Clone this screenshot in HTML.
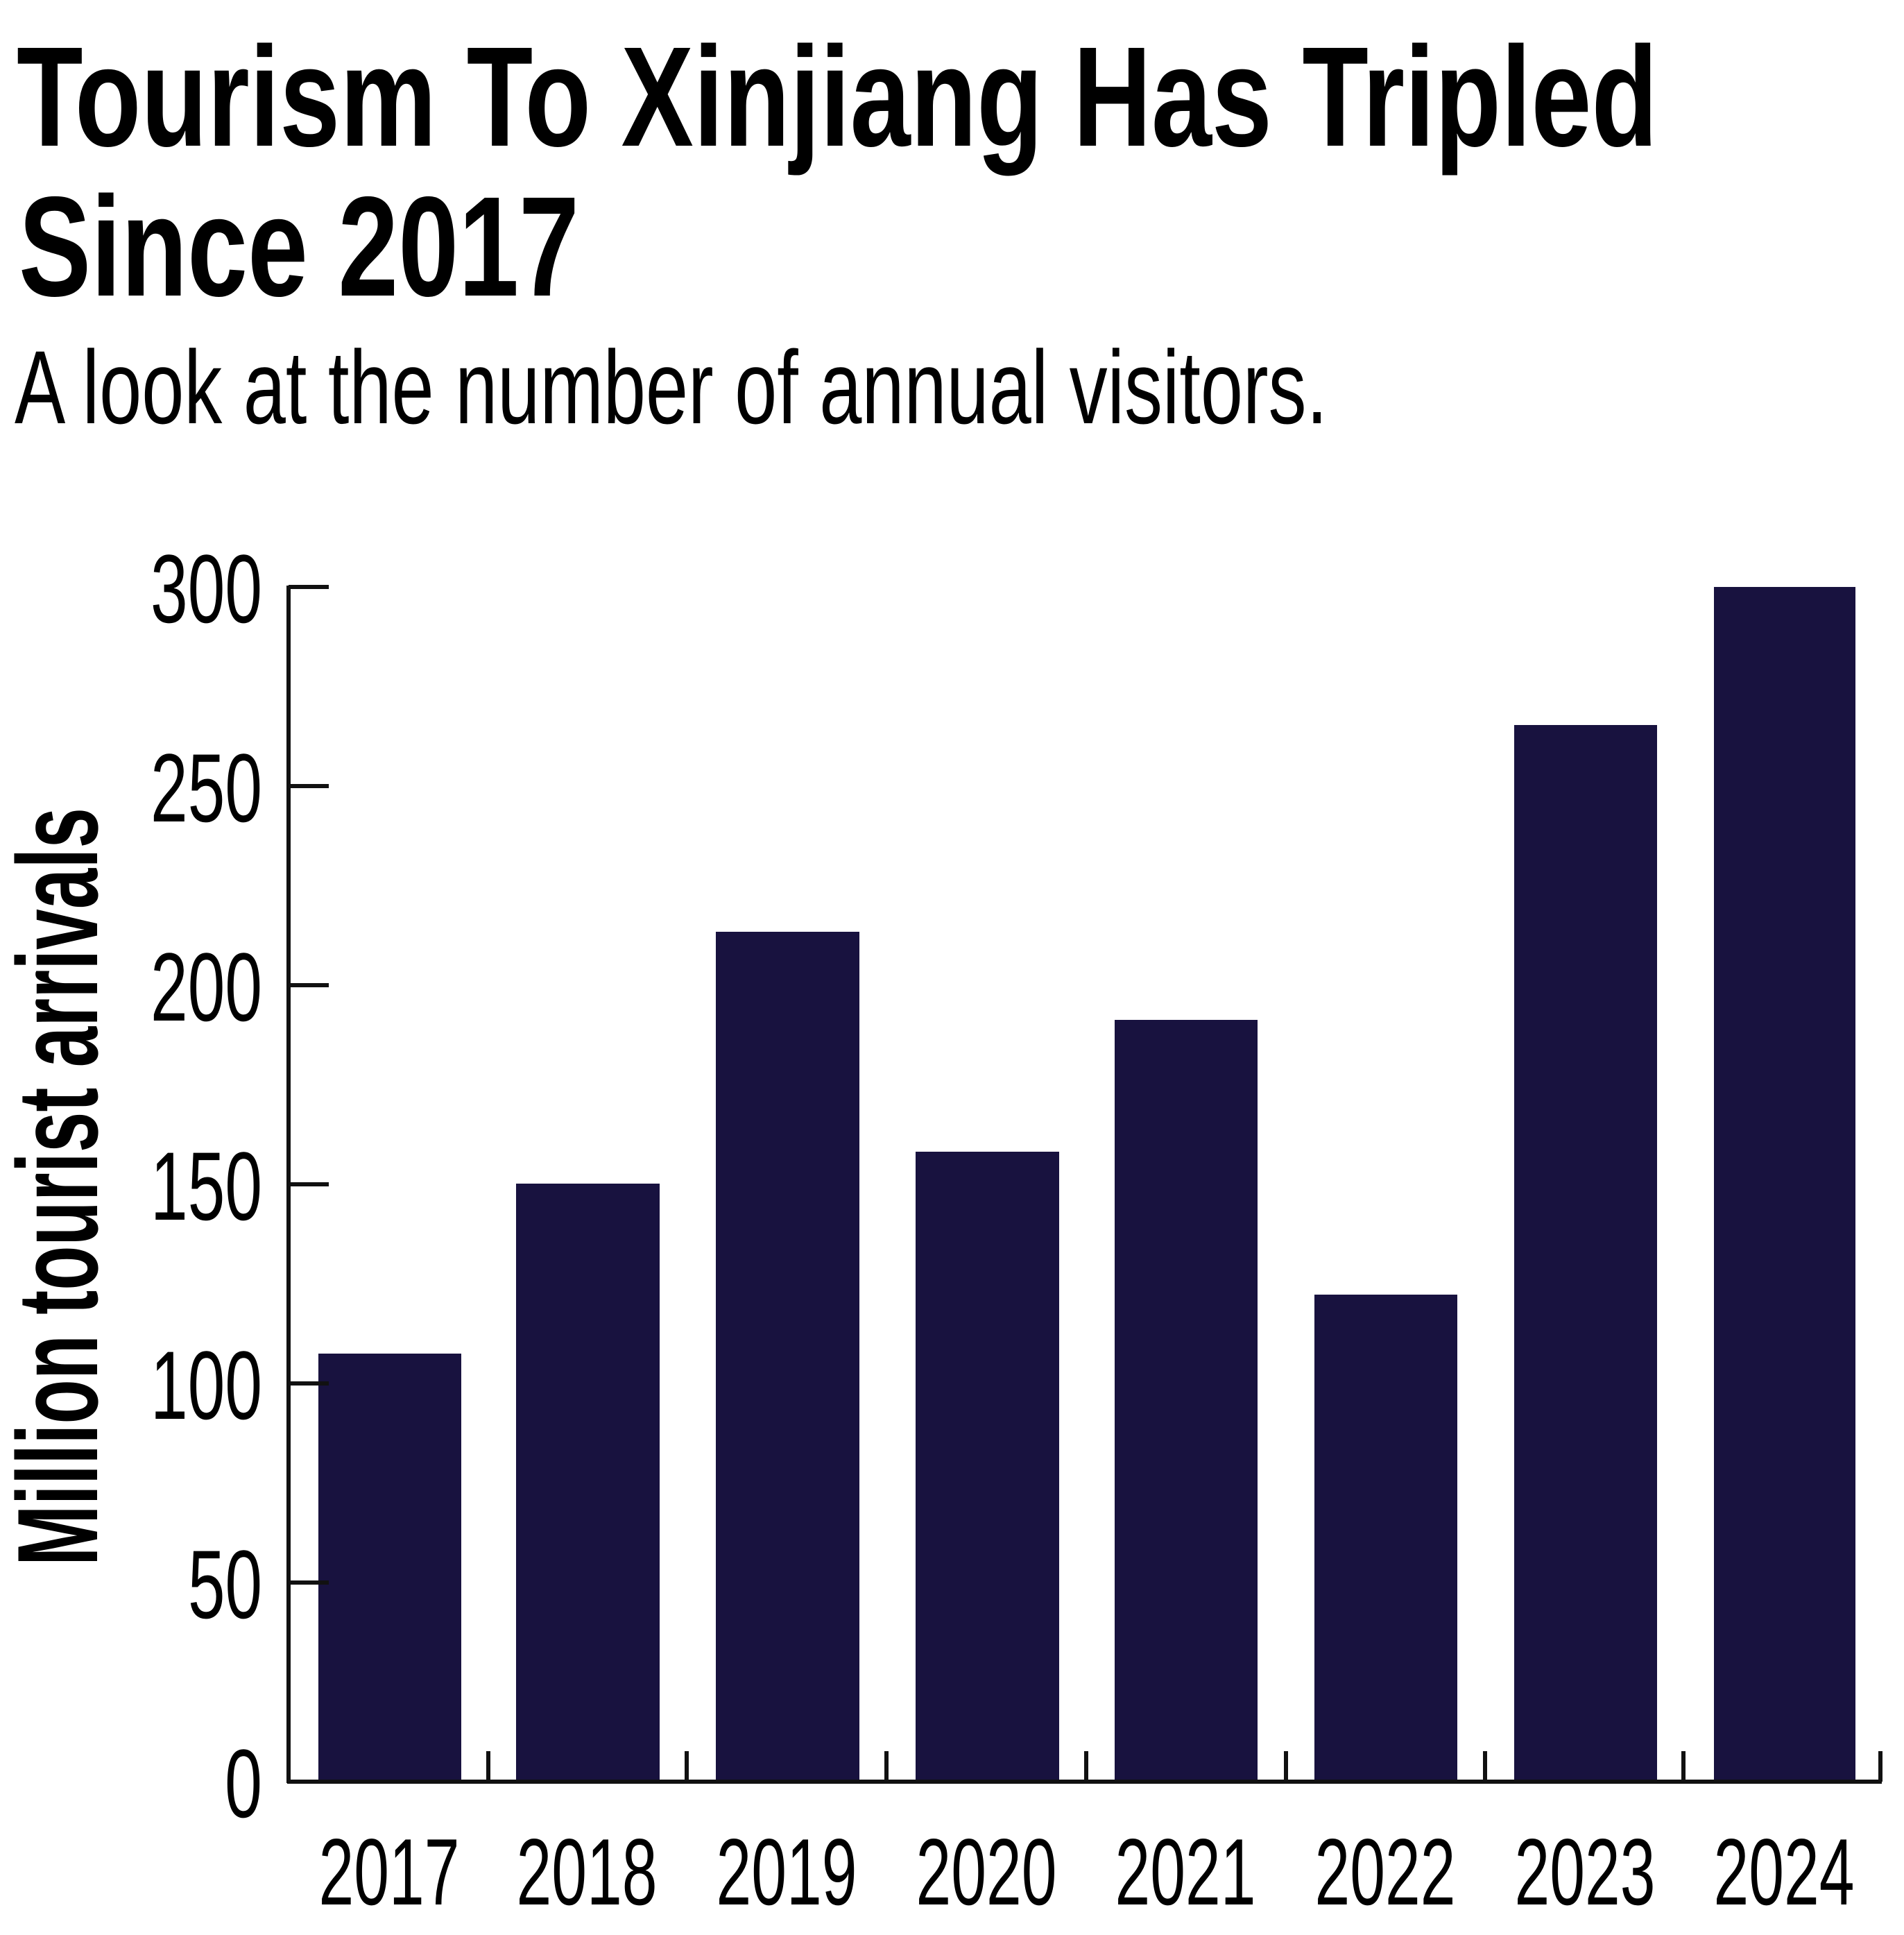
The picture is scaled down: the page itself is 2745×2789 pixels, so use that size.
<!DOCTYPE html>
<html><head><meta charset="utf-8"><style>
html,body{margin:0;padding:0;background:#fff;}
svg{display:block;}
text{font-family:"Liberation Sans Narrow","Liberation Sans",sans-serif;fill:#000;}
</style></head><body>
<svg width="2745" height="2789" viewBox="0 0 2745 2789" xmlns="http://www.w3.org/2000/svg">
<text x="24" y="210" font-size="205" font-weight="bold" textLength="2366" lengthAdjust="spacingAndGlyphs">Tourism To Xinjiang Has Tripled</text>
<text x="27" y="426" font-size="205" font-weight="bold" textLength="808" lengthAdjust="spacingAndGlyphs">Since 2017</text>
<text x="21" y="610" font-size="150" textLength="1893" lengthAdjust="spacingAndGlyphs">A look at the number of annual visitors.</text>
<text transform="translate(140,2257) rotate(-90)" font-size="165" font-weight="bold" textLength="1093" lengthAdjust="spacingAndGlyphs">Million tourist arrivals</text>
<g fill="#18123f">
<rect x="459" y="1951" width="206" height="617"/>
<rect x="744" y="1706" width="207" height="862"/>
<rect x="1032" y="1343" width="207" height="1225"/>
<rect x="1320" y="1660" width="207" height="908"/>
<rect x="1607" y="1470" width="206" height="1098"/>
<rect x="1895" y="1866" width="206" height="702"/>
<rect x="2183" y="1045" width="206" height="1523"/>
<rect x="2471" y="846" width="204" height="1722"/>
</g>
<g stroke="#111" stroke-width="6" fill="none">
<line x1="416" y1="844" x2="416" y2="2570"/>
<line x1="414" y1="2568" x2="2713" y2="2568"/>
<line x1="416" y1="846" x2="474" y2="846"/>
<line x1="416" y1="1133" x2="474" y2="1133"/>
<line x1="416" y1="1420" x2="474" y2="1420"/>
<line x1="416" y1="1707" x2="474" y2="1707"/>
<line x1="416" y1="1994" x2="474" y2="1994"/>
<line x1="416" y1="2281" x2="474" y2="2281"/>
<line x1="704" y1="2524" x2="704" y2="2568"/>
<line x1="990" y1="2524" x2="990" y2="2568"/>
<line x1="1278" y1="2524" x2="1278" y2="2568"/>
<line x1="1566" y1="2524" x2="1566" y2="2568"/>
<line x1="1854" y1="2524" x2="1854" y2="2568"/>
<line x1="2141" y1="2524" x2="2141" y2="2568"/>
<line x1="2427" y1="2524" x2="2427" y2="2568"/>
<line x1="2711" y1="2524" x2="2711" y2="2568"/>
</g>
<g font-size="140" text-anchor="end">
<text x="378" y="897" textLength="161" lengthAdjust="spacingAndGlyphs">300</text>
<text x="378" y="1184" textLength="161" lengthAdjust="spacingAndGlyphs">250</text>
<text x="378" y="1471" textLength="161" lengthAdjust="spacingAndGlyphs">200</text>
<text x="378" y="1758" textLength="161" lengthAdjust="spacingAndGlyphs">150</text>
<text x="378" y="2045" textLength="161" lengthAdjust="spacingAndGlyphs">100</text>
<text x="378" y="2332" textLength="107" lengthAdjust="spacingAndGlyphs">50</text>
<text x="378" y="2619" textLength="54" lengthAdjust="spacingAndGlyphs">0</text>
</g>
<g font-size="136" text-anchor="middle">
<text x="561" y="2745" textLength="203" lengthAdjust="spacingAndGlyphs">2017</text>
<text x="846" y="2745" textLength="203" lengthAdjust="spacingAndGlyphs">2018</text>
<text x="1134" y="2745" textLength="203" lengthAdjust="spacingAndGlyphs">2019</text>
<text x="1422" y="2745" textLength="203" lengthAdjust="spacingAndGlyphs">2020</text>
<text x="1709" y="2745" textLength="203" lengthAdjust="spacingAndGlyphs">2021</text>
<text x="1997" y="2745" textLength="203" lengthAdjust="spacingAndGlyphs">2022</text>
<text x="2285" y="2745" textLength="203" lengthAdjust="spacingAndGlyphs">2023</text>
<text x="2572" y="2745" textLength="203" lengthAdjust="spacingAndGlyphs">2024</text>
</g>
</svg>
</body></html>
